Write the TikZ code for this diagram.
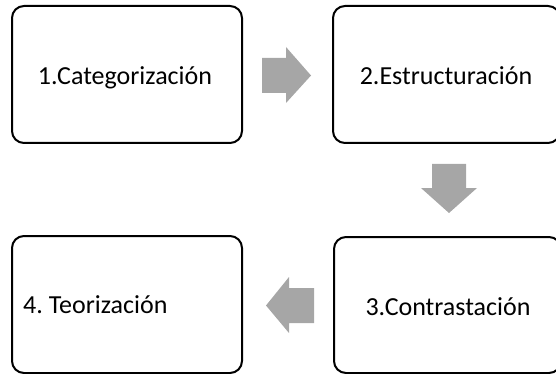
\documentclass[tikz,border=0pt]{standalone}
\usepackage{fontspec}
\setmainfont{Carlito}
\frenchspacing
\begin{document}
\begin{tikzpicture}[x=1pt,y=-1pt,
  stage/.style={draw=black, line width=2pt, rounded corners=12pt, fill=white},
  blockarrow/.style={fill=black!35, draw=none},
  lbl/.style={font=\fontsize{26}{30}\selectfont, inner sep=0pt}]
\useasboundingbox (0,0) rectangle (556,374);
\clip (0,0) rectangle (556,374);
% boxes
\draw[stage] (12,6) rectangle (242,143);
\draw[stage] (333,6) rectangle (560,143);
\draw[stage] (334,237) rectangle (561,373);
\draw[stage] (12,236) rectangle (242,373);
% labels
\node[lbl, anchor=base] (t1) at (125,85) {1.Categorización};
\node[lbl, anchor=base] (t2) at (446,85) {2.Estructuración};
\node[lbl, anchor=base] (t3) at (448,315) {3.Contrastación};
\node[lbl, anchor=base west] (t4) at (23,313) {4.\ Teorización};
% block arrows
\fill[blockarrow] (262,58) -- (286,58) -- (286,47) -- (311,75.5) -- (286,103) -- (286,93) -- (262,93) -- cycle;
\fill[blockarrow] (432,164) -- (466,164) -- (466,188) -- (477,188) -- (449,213) -- (421,188) -- (432,188) -- cycle;
\fill[blockarrow] (314,288) -- (289,288) -- (289,277) -- (266,305.5) -- (289,333) -- (289,323) -- (314,323) -- cycle;
\end{tikzpicture}
\end{document}
